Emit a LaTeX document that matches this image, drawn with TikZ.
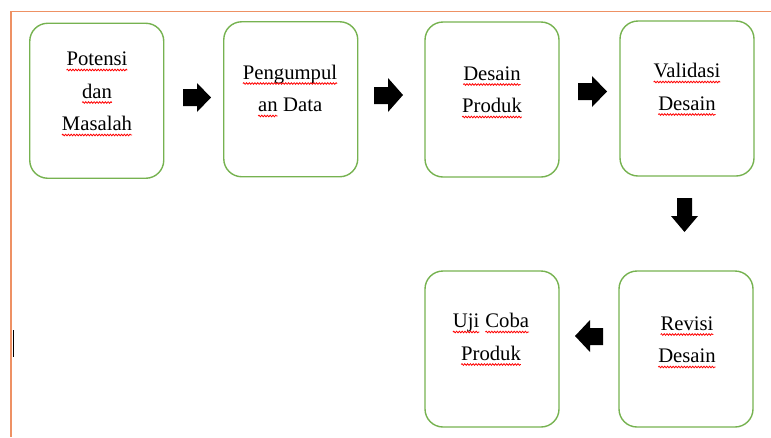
\documentclass[tikz,border=0pt]{standalone}
\usepackage{fontspec}
\setmainfont{Liberation Serif}
\usetikzlibrary{decorations.pathmorphing}
\definecolor{boxgreen}{RGB}{118,178,80}
\definecolor{frameorange}{RGB}{238,145,100}
\newcommand\spell[1]{\tikz[baseline=(sw.base)]{\node[inner sep=0pt,outer sep=0pt] (sw) {#1};\draw[red,line width=0.8pt,decorate,decoration={snake,amplitude=0.8pt,segment length=2.8pt}] ([yshift=-4.5pt]sw.base west) -- ([yshift=-4.5pt]sw.base east);}}
\tikzset{
  box/.style={draw=boxgreen,line width=1.4pt,rounded corners=18pt,minimum width=134pt,minimum height=155pt,inner sep=0pt},
  label/.style={anchor=base,align=center,inner sep=0pt,font=\fontsize{20.7pt}{32.5pt}\selectfont},
  blockarrow/.style={fill=black,draw=none},
  frame/.style={draw=frameorange,line width=1.6pt},
}
\begin{document}
\begin{tikzpicture}[x=1pt,y=-1pt]
\useasboundingbox (0,0) rectangle (771,437);
% frame
\coordinate (fr1) at (771,11.5);
\coordinate (fr2) at (11,11.5);
\coordinate (fr3) at (11,437);
\draw[frame] (fr1) -- (fr2) -- (fr3);
% text cursor
\coordinate (cur1) at (13.3,330);
\coordinate (cur2) at (13.3,357);
\draw[line width=1.4pt] (cur1) -- (cur2);
% boxes
\node[box] (b1) at (96.75,100.75) {};
\node[box] (b2) at (290.75,99.25) {};
\node[box] (b3) at (492,99.5) {};
\node[box] (b4) at (687,98.5) {};
\node[box,minimum height=156pt] (b5) at (492,349) {};
\node[box,minimum height=156pt] (b6) at (686,349) {};
% labels (anchor = baseline of last line)
\node[label] (t1) at (97,130.5) {\spell{Potensi}\\\spell{dan}\\\spell{Masalah}};
\node[label] (t2) at (290,111.5) {\spell{Pengumpul}\\\spell{an} Data};
\node[label] (t3) at (492,112.5) {\spell{Desain}\\\spell{Produk}};
\node[label] (t4) at (687,110) {\spell{Validasi}\\\spell{Desain}};
\node[label] (t5) at (491,360) {\spell{Uji} \spell{Coba}\\\spell{Produk}};
\node[label] (t6) at (687,362.5) {\spell{Revisi}\\\spell{Desain}};
% block arrows
\fill[blockarrow] (183,89) -- (197,89) -- (197,83) -- (211,97.5) -- (197,112) -- (197,106) -- (183,106) -- cycle;
\fill[blockarrow] (374,87) -- (388,87) -- (388,78) -- (403,95) -- (388,112) -- (388,104) -- (374,104) -- cycle;
\fill[blockarrow] (578,83) -- (592,83) -- (592,76) -- (607,91.5) -- (592,107) -- (592,100) -- (578,100) -- cycle;
\fill[blockarrow] (677,198) -- (692,198) -- (692,216) -- (698,216) -- (684.5,232) -- (671,216) -- (677,216) -- cycle;
\fill[blockarrow] (603,328) -- (590,328) -- (590,320) -- (575,336) -- (590,352) -- (590,345) -- (603,345) -- cycle;
\end{tikzpicture}
\end{document}
